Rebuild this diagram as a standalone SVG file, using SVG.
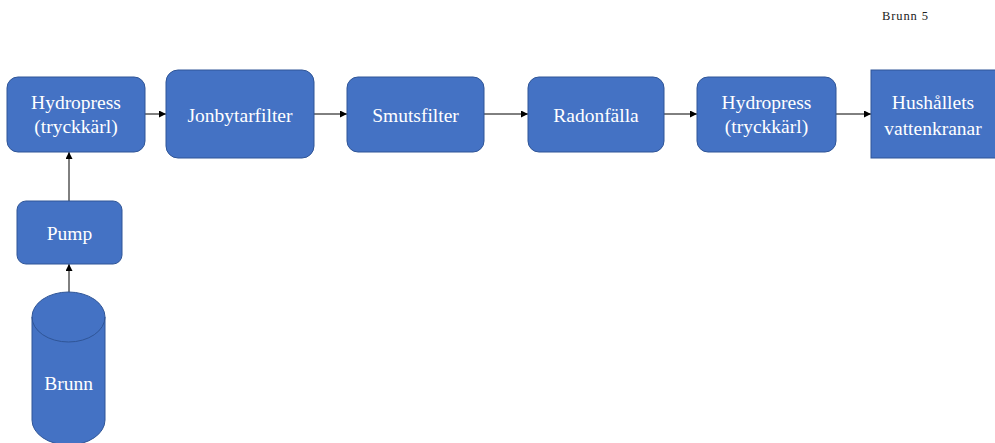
<svg xmlns="http://www.w3.org/2000/svg" width="995" height="443" viewBox="0 0 995 443">
  <style>
    .box { fill: #4472C4; stroke: #2F5597; stroke-width: 1; }
    .lbl { font-family: "Liberation Serif", "Times New Roman", serif; font-size: 19.5px; fill: #FFFFFF; text-anchor: middle; }
    .edge { stroke: #000000; stroke-width: 1; fill: none; marker-end: url(#arrow); }
    .note { font-family: "Liberation Serif", "Times New Roman", serif; font-size: 12.5px; fill: #222222; }
  </style>
  <defs>
    <marker id="arrow" viewBox="0 0 10 10" refX="10" refY="5" markerWidth="7" markerHeight="7" markerUnits="userSpaceOnUse" orient="auto">
      <path d="M0,0 L10,5 L0,10 z" fill="#000000"/>
    </marker>
  </defs>
  <rect width="995" height="443" fill="#FFFFFF"/>

  <text class="note" x="882" y="20" textLength="46">Brunn 5</text>

  <g id="connectors">
    <line class="edge" x1="69" y1="320" x2="69" y2="264"/>
    <line class="edge" x1="69" y1="201" x2="69" y2="152"/>
    <line class="edge" x1="145" y1="114" x2="166" y2="114"/>
    <line class="edge" x1="314" y1="114" x2="347" y2="114"/>
    <line class="edge" x1="484" y1="114" x2="528" y2="114"/>
    <line class="edge" x1="664" y1="114" x2="697" y2="114"/>
    <line class="edge" x1="836" y1="114" x2="871" y2="114"/>
  </g>

  <g id="brunn">
    <path class="box" d="M32,317 L32,420 A36.5,25 0 0 0 105,420 L105,317 A36.5,25 0 0 0 32,317 Z"/>
    <path d="M32,317 A36.5,25 0 0 0 105,317" fill="none" stroke="#2F5597" stroke-width="1"/>
    <text class="lbl" x="68.5" y="390">Brunn</text>
  </g>

  <g id="pump">
    <rect class="box" x="17" y="201" width="105" height="63" rx="9"/>
    <text class="lbl" x="69.5" y="240">Pump</text>
  </g>

  <g id="hydropress1">
    <rect class="box" x="7" y="77" width="138" height="75" rx="11"/>
    <text class="lbl" x="76" y="109">Hydropress</text>
    <text class="lbl" x="76" y="133">(tryckkärl)</text>
  </g>

  <g id="jonbytarfilter">
    <rect class="box" x="166" y="70" width="148" height="88" rx="12"/>
    <text class="lbl" x="240" y="122">Jonbytarfilter</text>
  </g>

  <g id="smutsfilter">
    <rect class="box" x="347" y="77" width="137" height="75" rx="11"/>
    <text class="lbl" x="415.5" y="122">Smutsfilter</text>
  </g>

  <g id="radonfalla">
    <rect class="box" x="528" y="77" width="136" height="75" rx="11"/>
    <text class="lbl" x="596" y="122">Radonfälla</text>
  </g>

  <g id="hydropress2">
    <rect class="box" x="697" y="77" width="139" height="75" rx="11"/>
    <text class="lbl" x="766.5" y="109">Hydropress</text>
    <text class="lbl" x="766.5" y="133">(tryckkärl)</text>
  </g>

  <g id="hushallets">
    <rect class="box" x="871" y="70" width="130" height="88"/>
    <text class="lbl" x="933" y="109">Hushållets</text>
    <text class="lbl" x="933" y="135">vattenkranar</text>
  </g>
</svg>
